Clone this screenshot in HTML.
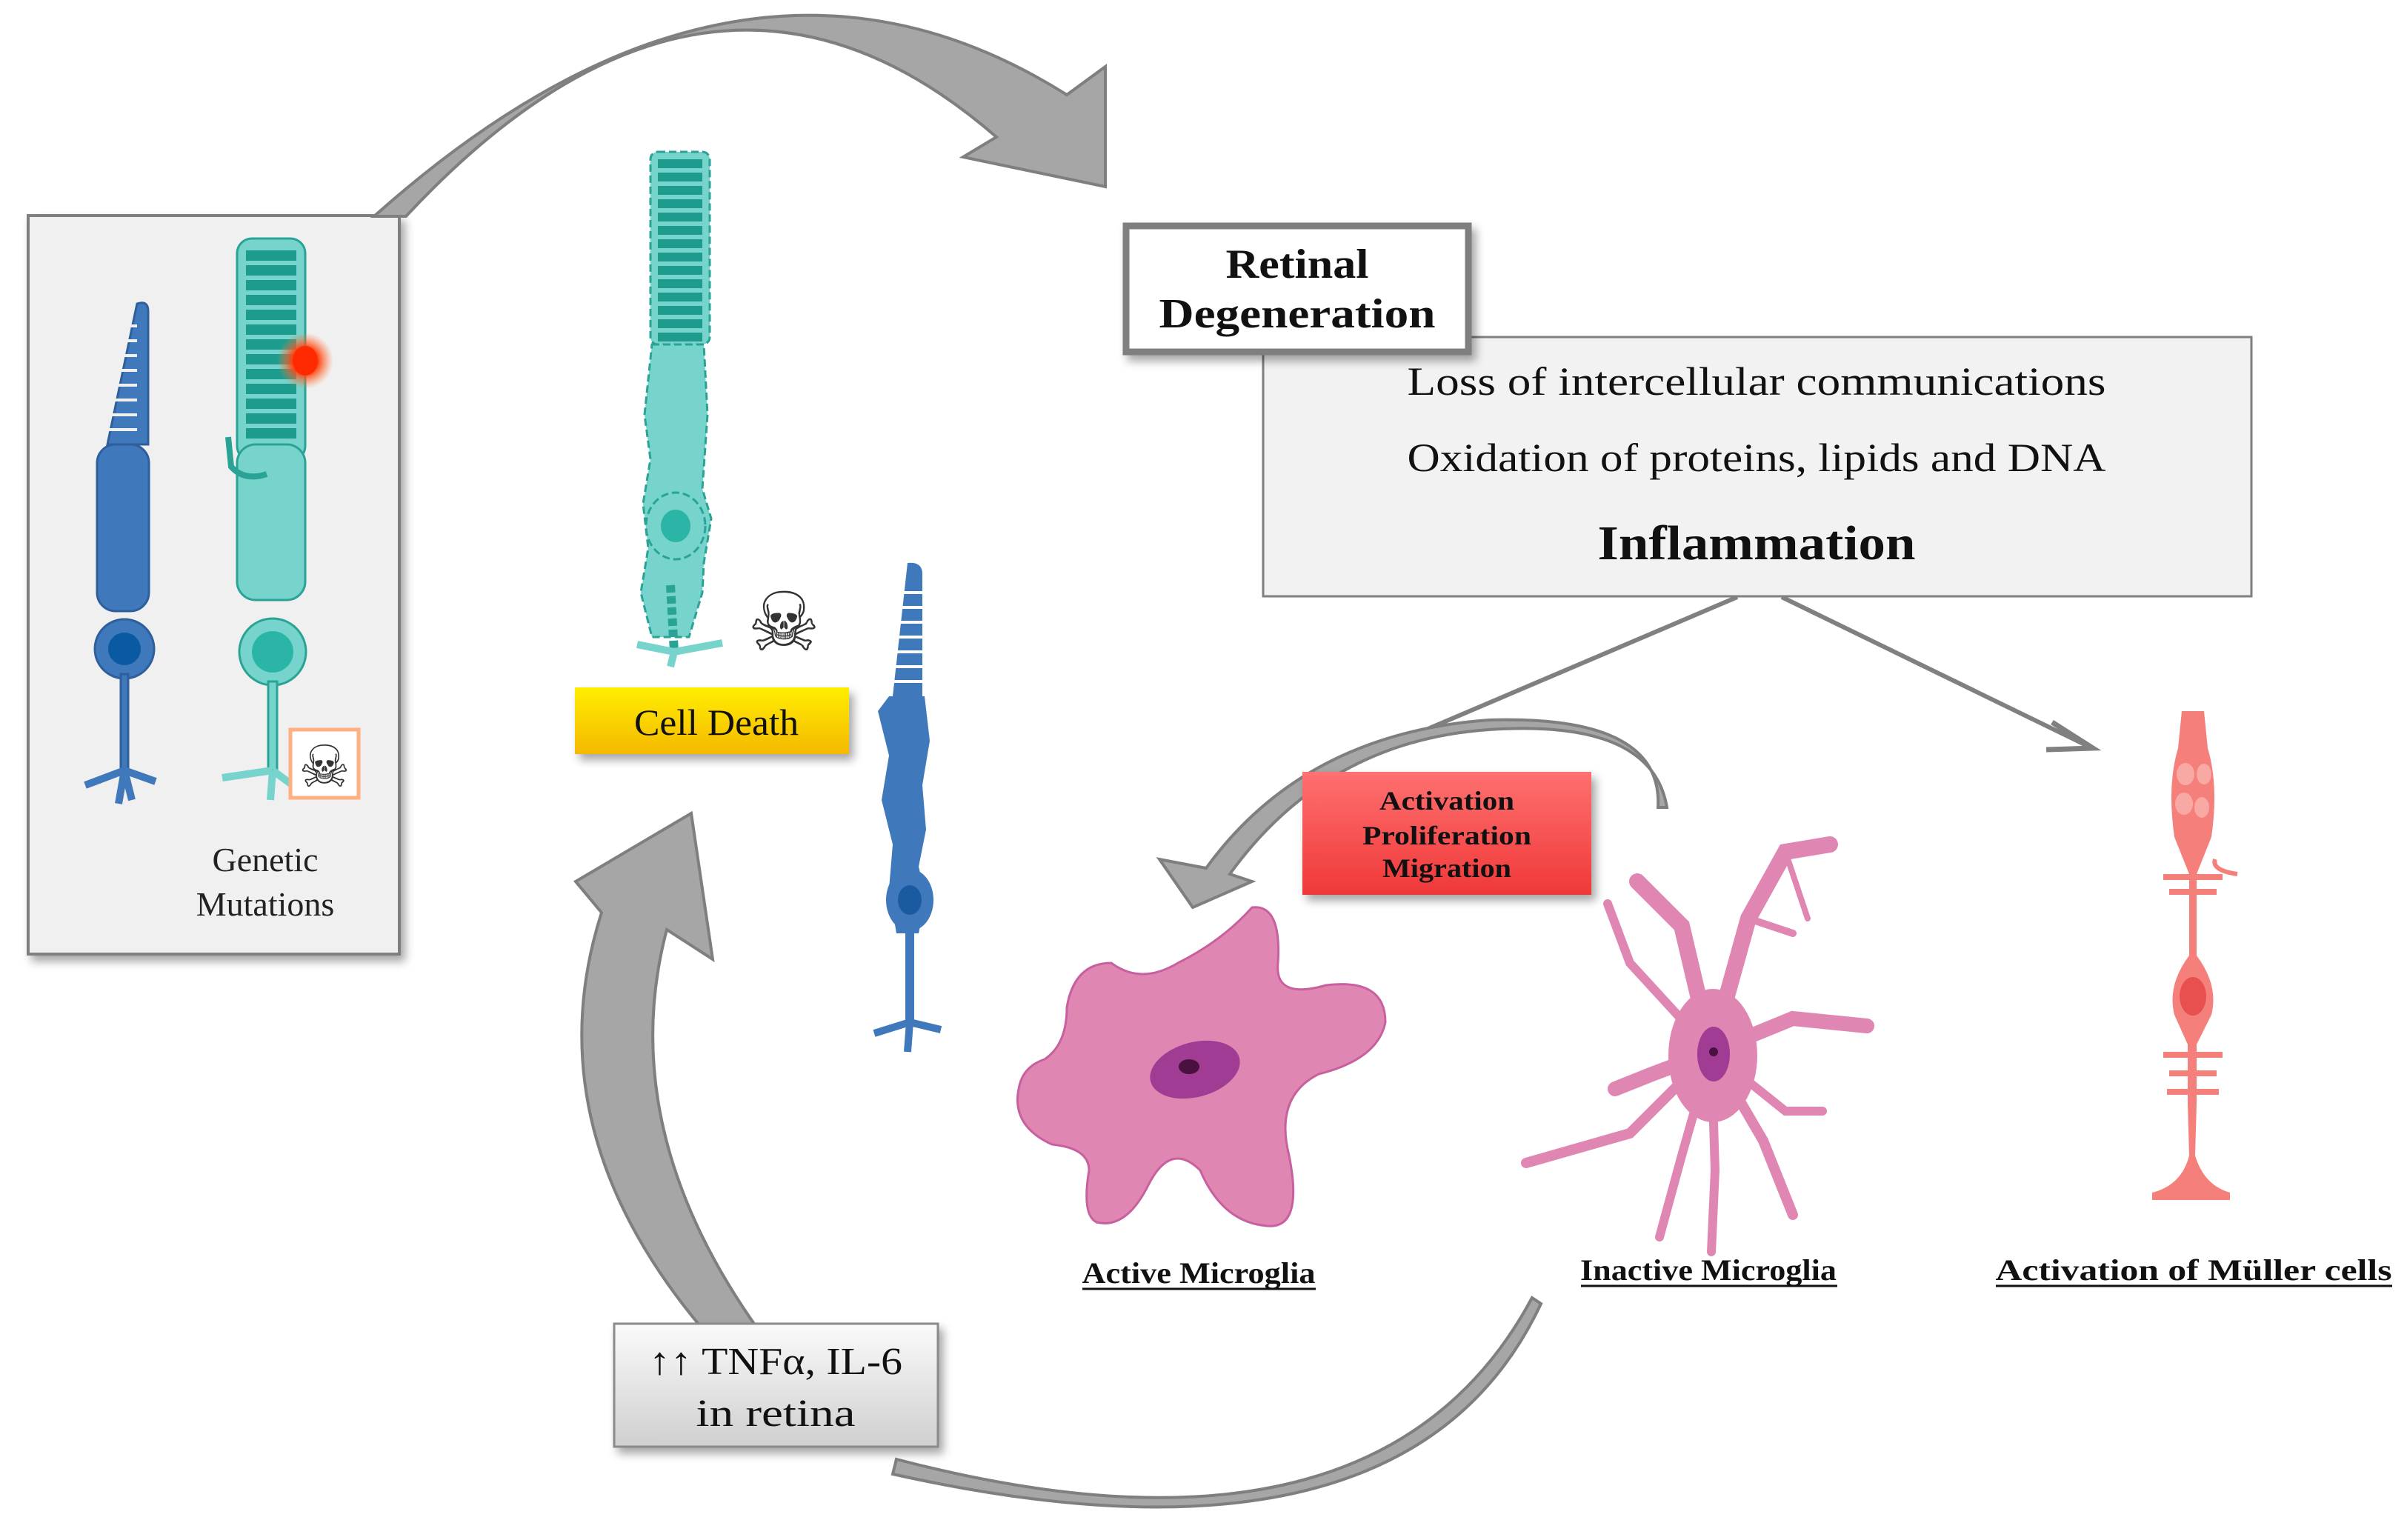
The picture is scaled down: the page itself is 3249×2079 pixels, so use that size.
<!DOCTYPE html>
<html><head><meta charset="utf-8"><style>
html,body{margin:0;padding:0;background:#fff;}
svg{display:block;}
text{font-family:"Liberation Serif",serif;}
</style></head><body>
<svg width="3249" height="2079" viewBox="0 0 3249 2079" xmlns="http://www.w3.org/2000/svg">
<defs>
<linearGradient id="yel" x1="0" y1="0" x2="0" y2="1"><stop offset="0" stop-color="#ffee00"/><stop offset="1" stop-color="#f5b800"/></linearGradient>
<linearGradient id="red" x1="0" y1="0" x2="0" y2="1"><stop offset="0" stop-color="#ff7070"/><stop offset="1" stop-color="#f03838"/></linearGradient>
<linearGradient id="gry" x1="0" y1="0" x2="0" y2="1"><stop offset="0" stop-color="#fafafa"/><stop offset="1" stop-color="#cfcfcf"/></linearGradient>
<radialGradient id="glow"><stop offset="0" stop-color="#ff3000"/><stop offset="0.45" stop-color="#ff4010"/><stop offset="1" stop-color="#ff8040" stop-opacity="0"/></radialGradient>
<filter id="sh" x="-10%" y="-10%" width="130%" height="130%"><feDropShadow dx="6" dy="8" stdDeviation="6" flood-color="#000" flood-opacity="0.35"/></filter>
</defs>

<!-- left box -->
<rect x="38" y="291" width="501" height="997" fill="#f0f0f0" stroke="#7f7f7f" stroke-width="4" filter="url(#sh)"/>

<!-- top arrow -->
<path d="M505 292 Q1000 -150 1440 128 L1492 90 L1492 252 L1300 212 L1345 185 Q960 -150 548 292 Z" fill="#a6a6a6" stroke="#7f7f7f" stroke-width="4"/>

<!-- blue cone in box -->
<g fill="#3f78bb" stroke="#2e5f9c" stroke-width="3">
<path d="M145 600 L185 410 Q200 405 200 420 L200 600 Z"/>
<rect x="131" y="600" width="70" height="225" rx="25"/>
<circle cx="168" cy="876" r="40"/>
<rect x="163" y="910" width="10" height="130"/>
<path d="M168 1040 L115 1060 M168 1040 L210 1055 M168 1040 L160 1085 M168 1040 L178 1080" stroke="#3f78bb" stroke-width="10" fill="none"/>
</g>
<circle cx="168" cy="876" r="22" fill="#0a5aa3"/>
<g stroke="#f0f0f0" stroke-width="4">
<line x1="140" y1="440" x2="185" y2="440"/><line x1="140" y1="460" x2="185" y2="460"/><line x1="140" y1="480" x2="185" y2="480"/><line x1="140" y1="500" x2="185" y2="500"/><line x1="140" y1="520" x2="185" y2="520"/><line x1="140" y1="540" x2="185" y2="540"/><line x1="140" y1="560" x2="185" y2="560"/><line x1="140" y1="580" x2="185" y2="580"/>
</g>
<!-- teal rod in box -->
<g fill="#76d4cc" stroke="#29a396" stroke-width="3">
<rect x="320" y="322" width="92" height="300" rx="20"/>
<rect x="320" y="600" width="92" height="210" rx="25"/>
<path d="M308 590 L312 630 Q330 650 360 640" fill="none" stroke-width="8"/>
<circle cx="368" cy="880" r="45"/>
<rect x="362" y="920" width="12" height="120"/>
<path d="M368 1040 L300 1050 M368 1040 L395 1060 M368 1040 L365 1080" stroke="#76d4cc" stroke-width="10" fill="none"/>
</g>
<circle cx="368" cy="880" r="28" fill="#2bb5a7"/>
<g fill="#1d9c8e">
<rect x="332" y="338" width="68" height="14"/><rect x="332" y="358" width="68" height="14"/><rect x="332" y="378" width="68" height="14"/><rect x="332" y="398" width="68" height="14"/><rect x="332" y="418" width="68" height="14"/><rect x="332" y="438" width="68" height="14"/><rect x="332" y="458" width="68" height="14"/><rect x="332" y="478" width="68" height="14"/><rect x="332" y="498" width="68" height="14"/><rect x="332" y="518" width="68" height="14"/><rect x="332" y="538" width="68" height="14"/><rect x="332" y="558" width="68" height="14"/><rect x="332" y="578" width="68" height="14"/>
</g>
<circle cx="412" cy="487" r="38" fill="url(#glow)"/>
<ellipse cx="412" cy="487" rx="17" ry="20" fill="#ff2a00"/>
<rect x="392" y="985" width="92" height="92" fill="#fff" stroke="#ffb080" stroke-width="5"/>
<text x="438" y="1062" font-size="78" text-anchor="middle" fill="#333">☠</text>
<text x="358" y="1176" font-size="46" text-anchor="middle" fill="#222">Genetic</text>
<text x="358" y="1236" font-size="46" text-anchor="middle" fill="#222">Mutations</text>

<!-- dying teal rod -->
<g fill="#76d4cc" stroke="#29a396" stroke-width="3" stroke-dasharray="10 5">
<rect x="878" y="205" width="80" height="260" rx="10"/>
<path d="M880 465 L950 465 L955 560 L948 660 L960 700 L950 760 L948 800 L930 860 L880 860 L865 800 L875 740 L868 680 L878 620 L870 560 Z"/>
<ellipse cx="912" cy="710" rx="40" ry="45"/>
<path d="M905 790 L910 880" stroke-width="12" fill="none"/>
</g>
<path d="M910 880 L860 870 M910 880 L975 868 M910 880 L905 900" stroke="#76d4cc" stroke-width="10" fill="none"/>
<ellipse cx="912" cy="710" rx="20" ry="22" fill="#2bb5a7"/>
<g fill="#1d9c8e">
<rect x="888" y="215" width="60" height="12"/><rect x="888" y="233" width="60" height="12"/><rect x="888" y="251" width="60" height="12"/><rect x="888" y="269" width="60" height="12"/><rect x="888" y="287" width="60" height="12"/><rect x="888" y="305" width="60" height="12"/><rect x="888" y="323" width="60" height="12"/><rect x="888" y="341" width="60" height="12"/><rect x="888" y="359" width="60" height="12"/><rect x="888" y="377" width="60" height="12"/><rect x="888" y="395" width="60" height="12"/><rect x="888" y="413" width="60" height="12"/><rect x="888" y="431" width="60" height="12"/><rect x="888" y="449" width="60" height="12"/>
</g>
<text x="1058" y="878" font-size="110" text-anchor="middle" fill="#333">☠</text>

<!-- dying blue cone -->
<g fill="#3f78bb">
<path d="M1225 760 Q1245 758 1245 775 L1245 940 L1205 940 Z"/>
<path d="M1200 940 L1248 940 L1255 1000 L1245 1060 L1250 1120 L1240 1170 L1250 1210 L1240 1260 L1210 1260 L1200 1200 L1205 1140 L1190 1080 L1200 1020 L1185 960 Z"/>
<ellipse cx="1228" cy="1215" rx="32" ry="42"/>
<rect x="1222" y="1250" width="12" height="130"/>
<path d="M1228 1380 L1180 1395 M1228 1380 L1270 1390 M1228 1380 L1225 1420" stroke="#3f78bb" stroke-width="10"/>
</g>
<ellipse cx="1228" cy="1215" rx="16" ry="20" fill="#1a5aa0"/>
<g stroke="#fff" stroke-width="4"><line x1="1212" y1="800" x2="1245" y2="800"/><line x1="1210" y1="820" x2="1245" y2="820"/><line x1="1208" y1="840" x2="1245" y2="840"/><line x1="1206" y1="860" x2="1245" y2="860"/><line x1="1204" y1="880" x2="1245" y2="880"/><line x1="1202" y1="900" x2="1245" y2="900"/><line x1="1200" y1="920" x2="1245" y2="920"/></g>

<!-- cell death -->
<rect x="776" y="928" width="370" height="90" fill="url(#yel)" filter="url(#sh)"/>
<text x="967" y="992" font-size="50" text-anchor="middle" fill="#111" textLength="222" lengthAdjust="spacingAndGlyphs">Cell Death</text>

<!-- retinal degeneration box -->
<rect x="1705" y="455" width="1334" height="350" fill="#f2f2f2" stroke="#7f7f7f" stroke-width="3"/>
<rect x="1520" y="305" width="462" height="170" fill="#fff" stroke="#7f7f7f" stroke-width="9" filter="url(#sh)"/>
<text x="1751" y="375" font-size="56" font-weight="bold" text-anchor="middle" fill="#111" textLength="193" lengthAdjust="spacingAndGlyphs">Retinal</text>
<text x="1751" y="442" font-size="56" font-weight="bold" text-anchor="middle" fill="#111" textLength="373" lengthAdjust="spacingAndGlyphs">Degeneration</text>
<text x="2371" y="533" font-size="54" text-anchor="middle" fill="#111" textLength="943" lengthAdjust="spacingAndGlyphs">Loss of intercellular communications</text>
<text x="2371" y="636" font-size="54" text-anchor="middle" fill="#111" textLength="943" lengthAdjust="spacingAndGlyphs">Oxidation of proteins, lipids and DNA</text>
<text x="2371" y="755" font-size="66" font-weight="bold" text-anchor="middle" fill="#111" textLength="429" lengthAdjust="spacingAndGlyphs">Inflammation</text>

<!-- connector lines -->
<line x1="2345" y1="806" x2="1925" y2="985" stroke="#808080" stroke-width="6"/>
<line x1="2405" y1="806" x2="2820" y2="1008" stroke="#808080" stroke-width="6"/>
<path d="M2770 975 L2825 1010 L2762 1012" fill="none" stroke="#808080" stroke-width="7"/>

<!-- arrow inactive -> active -->
<path d="M2250 1090 Q2230 970 2010 985 Q1790 1000 1660 1180 L1690 1190 L1610 1225 L1565 1160 L1628 1172 Q1760 990 2010 972 Q2245 965 2238 1090 Z" fill="#a6a6a6" stroke="#7f7f7f" stroke-width="4"/>

<!-- red box -->
<rect x="1758" y="1042" width="390" height="166" fill="url(#red)" filter="url(#sh)"/>
<text x="1953" y="1093" font-size="36" font-weight="bold" text-anchor="middle" fill="#111" textLength="182" lengthAdjust="spacingAndGlyphs">Activation</text>
<text x="1953" y="1140" font-size="36" font-weight="bold" text-anchor="middle" fill="#111" textLength="228" lengthAdjust="spacingAndGlyphs">Proliferation</text>
<text x="1953" y="1184" font-size="36" font-weight="bold" text-anchor="middle" fill="#111" textLength="174" lengthAdjust="spacingAndGlyphs">Migration</text>

<!-- active microglia -->
<path d="M1500 1300 Q1540 1330 1590 1300 Q1650 1270 1690 1225 Q1730 1220 1725 1300 Q1720 1350 1790 1330 Q1870 1320 1870 1380 Q1860 1430 1780 1450 Q1720 1480 1740 1560 Q1760 1660 1710 1655 Q1650 1650 1620 1580 Q1580 1540 1550 1600 Q1520 1660 1480 1650 Q1460 1640 1470 1580 Q1470 1550 1420 1545 Q1365 1520 1375 1470 Q1380 1440 1410 1430 Q1440 1410 1440 1360 Q1450 1300 1500 1300 Z" fill="#e086b2" stroke="#c860a0" stroke-width="3"/>
<ellipse cx="1613" cy="1444" rx="62" ry="37" transform="rotate(-15 1613 1444)" fill="#a03c94"/>
<ellipse cx="1605" cy="1440" rx="14" ry="10" fill="#4a1040"/>

<!-- inactive microglia -->
<g stroke="#e086b2" stroke-linecap="round" fill="none">
<path d="M2310 1420 L2270 1250 L2210 1190" stroke-width="22"/>
<path d="M2310 1420 L2360 1240 L2410 1150 L2470 1140" stroke-width="22"/>
<path d="M2310 1420 L2420 1375 L2520 1385" stroke-width="20"/>
<path d="M2310 1420 L2230 1450 L2180 1470" stroke-width="20"/>
<path d="M2310 1420 L2200 1530 L2060 1570" stroke-width="14"/>
<path d="M2310 1420 L2270 1560 L2240 1670" stroke-width="12"/>
<path d="M2310 1420 L2315 1580 L2310 1690" stroke-width="12"/>
<path d="M2310 1420 L2380 1540 L2420 1640" stroke-width="14"/>
<path d="M2310 1420 L2410 1500 L2460 1500" stroke-width="12"/>
<path d="M2310 1420 L2200 1300 L2170 1220" stroke-width="12"/>
<path d="M2360 1240 L2420 1260" stroke-width="10"/>
<path d="M2410 1150 L2440 1240" stroke-width="8"/>
</g>
<ellipse cx="2312" cy="1425" rx="60" ry="90" fill="#e086b2"/>
<ellipse cx="2313" cy="1423" rx="22" ry="37" fill="#a03c94"/>
<circle cx="2313" cy="1420" r="6" fill="#4a1040"/>

<!-- Müller cell -->
<g fill="#f57f7a">
<path d="M2945 960 L2975 960 L2980 1010 Q2995 1060 2985 1130 L2965 1180 L2965 1290 Q2995 1330 2985 1370 L2965 1410 L2965 1490 L2963 1560 Q2975 1600 3010 1610 L3010 1620 L2905 1620 L2905 1610 Q2945 1600 2955 1560 L2953 1490 L2953 1410 L2935 1370 Q2925 1330 2955 1290 L2955 1180 L2935 1130 Q2925 1060 2940 1010 Z"/>
<rect x="2920" y="1180" width="80" height="8"/><rect x="2928" y="1200" width="64" height="8"/><rect x="2920" y="1420" width="80" height="8"/><rect x="2928" y="1445" width="64" height="8"/><rect x="2925" y="1470" width="70" height="8"/>
<path d="M2990 1160 Q2985 1175 3020 1180" stroke="#f57f7a" stroke-width="6" fill="none"/>
</g>
<ellipse cx="2960" cy="1345" rx="18" ry="26" fill="#e85050"/>
<g fill="#f9a9a4"><ellipse cx="2950" cy="1045" rx="12" ry="15"/><ellipse cx="2975" cy="1045" rx="10" ry="14"/><ellipse cx="2948" cy="1085" rx="12" ry="15"/><ellipse cx="2972" cy="1090" rx="10" ry="14"/></g>

<!-- labels -->
<g font-weight="bold" font-size="40" text-anchor="middle" fill="#111">
<text x="1618" y="1732" textLength="315" lengthAdjust="spacingAndGlyphs">Active Microglia</text>
<text x="2306" y="1728" textLength="346" lengthAdjust="spacingAndGlyphs">Inactive Microglia</text>
<text x="2961" y="1728" textLength="535" lengthAdjust="spacingAndGlyphs">Activation of Müller cells</text>
</g>
<g stroke="#111" stroke-width="3">
<line x1="1461" y1="1740" x2="1776" y2="1740"/><line x1="2134" y1="1736" x2="2480" y2="1736"/><line x1="2694" y1="1736" x2="3229" y2="1736"/>
</g>

<!-- left big arrow -->
<path d="M945 1790 Q720 1520 812 1232 L777 1190 L933 1098 L962 1295 L900 1255 Q830 1520 1020 1790 Z" fill="#a6a6a6" stroke="#7f7f7f" stroke-width="4"/>

<!-- bottom arrow -->
<path d="M2068 1752 Q1860 2140 1210 1970 L1205 1990 Q1900 2145 2080 1760 Z" fill="#a6a6a6" stroke="#7f7f7f" stroke-width="4"/>

<!-- TNF box -->
<rect x="829" y="1787" width="437" height="166" fill="url(#gry)" stroke="#8a8a8a" stroke-width="3" filter="url(#sh)"/>
<text x="1047" y="1855" font-size="52" text-anchor="middle" fill="#111" textLength="342" lengthAdjust="spacingAndGlyphs">↑↑ TNFα, IL-6</text>
<text x="1047" y="1925" font-size="52" text-anchor="middle" fill="#111" textLength="215" lengthAdjust="spacingAndGlyphs">in retina</text>
</svg>
</body></html>
